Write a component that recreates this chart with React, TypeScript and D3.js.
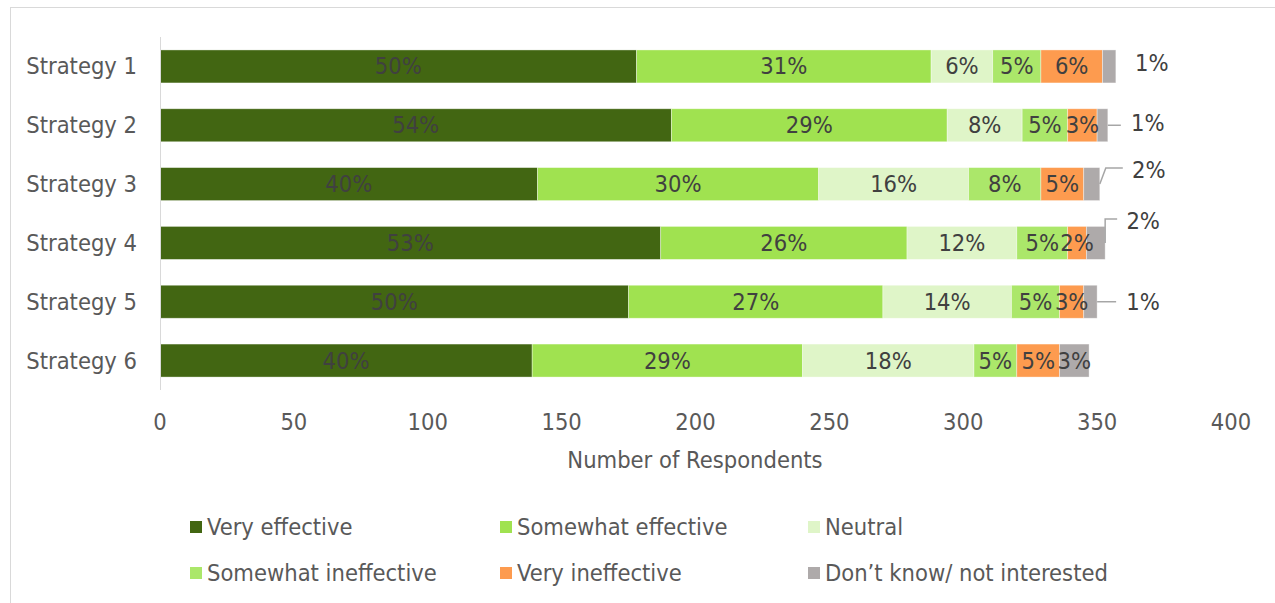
import React from "react";
import * as d3 from "d3";

const strategies = ["Strategy 1", "Strategy 2", "Strategy 3", "Strategy 4", "Strategy 5", "Strategy 6"];
const seriesNames = ["Very effective", "Somewhat effective", "Neutral", "Somewhat ineffective", "Very ineffective", "Don\u2019t know/ not interested"];
const veryEffective = [178, 191, 141, 187, 175, 139];
const somewhatEffective = [110, 103, 105, 92, 95, 101];
const neutral = [23, 28, 56, 41, 48, 64];
const somewhatIneffective = [18, 17, 27, 19, 18, 16];
const veryIneffective = [23, 11, 16, 7, 9, 16];
const dontKnow = [5, 4, 6, 7, 5, 11];
const xTicks = [0, 50, 100, 150, 200, 250, 300, 350, 400];

const colors = ["#426612", "#a0e250", "#dff5c8", "#abe76a", "#fd9b4f", "#aeaaaa"];
// outside-label layout for "Don't know" segments: offsets from bar end / bar centre
const outsideLabel = [
  { dx: 36, dy: -3, leader: "none", elbow: 0 },
  { dx: 40, dy: -2, leader: "line", elbow: 0 },
  { dx: 49, dy: -14, leader: "elbow", elbow: 6 },
  { dx: 38, dy: -22, leader: "elbow", elbow: 0 },
  { dx: 46, dy: 0, leader: "line", elbow: 0 },
  null,
];

const FONT = "'DejaVu Sans Condensed', 'DejaVu Sans', sans-serif";

export default function App() {
  const W = 1275, H = 603;
  const x = d3.scaleLinear().domain([0, 400]).range([160, 1231]);
  const y = d3.scaleBand<string>().domain(strategies).range([37, 390]).paddingInner(0.439).paddingOuter(0.22);
  const series = [veryEffective, somewhatEffective, neutral, somewhatIneffective, veryIneffective, dontKnow];
  const rows = strategies.map((s, i) => {
    const obj: any = { name: s };
    seriesNames.forEach((n, k) => (obj[n] = series[k][i]));
    return obj;
  });
  const stack = d3.stack<any>().keys(seriesNames)(rows);
  const totals = rows.map((r) => seriesNames.reduce((a, n) => a + r[n], 0));
  const bw = y.bandwidth();
  const fs = 23.5;
  const legendCols = [190, 500, 808];
  const legendRows = [527, 573];

  return (
    <svg width={W} height={H} style={{ position: "absolute", left: 0, top: 0 }} fontFamily={FONT} fontStretch="condensed">
      <rect x={10.5} y={7.5} width={1400} height={800} fill="#fff" stroke="#d9d9d9" strokeWidth={1} />
      {stack.map((layer, k) => (
        <g key={k}>
          {layer.map((d, i) => {
            const x0 = x(d[0]), x1 = x(d[1]);
            const yy = y(strategies[i])!;
            return (
              <rect key={i} x={x0} y={yy} width={x1 - x0} height={bw} fill={colors[k]} stroke="#ffffff" strokeOpacity={0.5} strokeWidth={0.75} />
            );
          })}
        </g>
      ))}
      <line x1={160.5} x2={160.5} y1={37} y2={390} stroke="#d9d9d9" strokeWidth={1} />
      {stack.map((layer, k) => (
        <g key={"l" + k}>
          {layer.map((d, i) => {
            const pct = Math.round(((d[1] - d[0]) / totals[i]) * 100) + "%";
            const yy = y(strategies[i])! + bw / 2;
            const x1 = x(d[1]);
            if (k === 5 && outsideLabel[i]) {
              const o = outsideLabel[i]!;
              const lx = x1 + o.dx, ly = yy + o.dy;
              let path = "";
              if (o.leader === "line") path = `M${x1},${yy}H${lx - 27}`;
              if (o.leader === "elbow") path = `M${x1},${yy}L${x1 + o.elbow},${ly - 2}H${lx - 26}`;
              return (
                <g key={i}>
                  {path && <path d={path} fill="none" stroke="#a6a6a6" strokeWidth={1.5} />}
                  <text x={lx} y={ly} textAnchor="middle" dominantBaseline="central" fontSize={fs} fill="#404040">{pct}</text>
                </g>
              );
            }
            return (
              <text key={i} x={(x(d[0]) + x1) / 2} y={yy} textAnchor="middle" dominantBaseline="central" fontSize={fs} fill="#404040">{pct}</text>
            );
          })}
        </g>
      ))}
      {strategies.map((s) => (
        <text key={s} x={137} y={y(s)! + bw / 2} textAnchor="end" dominantBaseline="central" fontSize={fs} fill="#595959">{s}</text>
      ))}
      {xTicks.map((t) => (
        <text key={t} x={x(t)} y={422} textAnchor="middle" dominantBaseline="central" fontSize={fs} fill="#595959">{t}</text>
      ))}
      <text x={695} y={460} textAnchor="middle" dominantBaseline="central" fontSize={fs} fill="#595959">Number of Respondents</text>
      {seriesNames.map((n, k) => {
        const lx = legendCols[k % 3];
        const ly = legendRows[Math.floor(k / 3)];
        return (
          <g key={n}>
            <rect x={lx} y={ly - 6} width={12} height={12} fill={colors[k]} />
            <text x={lx + 17} y={ly} dominantBaseline="central" fontSize={fs} fill="#595959">{n}</text>
          </g>
        );
      })}
    </svg>
  );
}
